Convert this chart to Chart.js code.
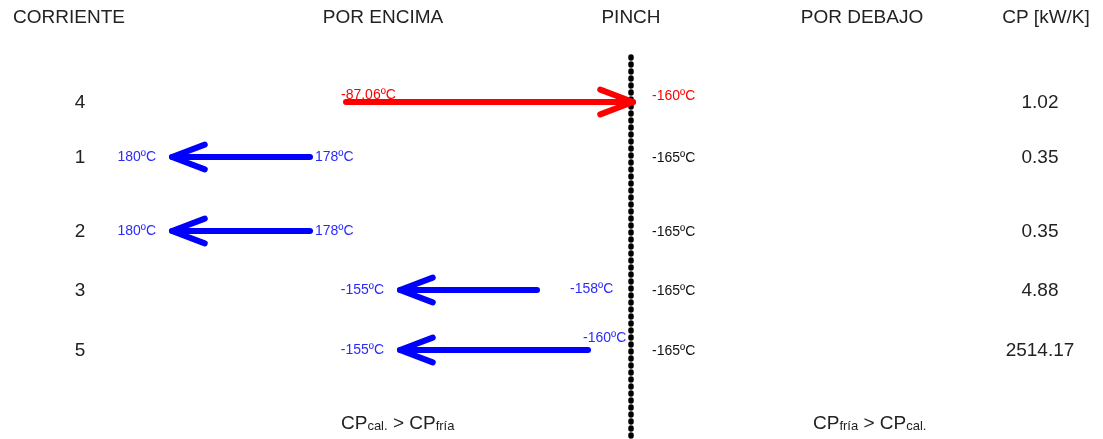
<!DOCTYPE html>
<html>
<head>
<meta charset="utf-8">
<script src="https://cdn.jsdelivr.net/npm/chart.js@4.4.1/dist/chart.umd.min.js"></script>
<style>
  html, body { margin: 0; padding: 0; background: #fff; }
  #wrap { width: 1103px; height: 439px; position: relative; }
</style>
</head>
<body>
<div id="wrap"><canvas id="pinchChart"></canvas></div>
<script>
// Corrientes (filas del diagrama)
const streams = ['4', '1', '2', '3', '5'];
const streamType = ['cal', 'fria', 'fria', 'fria', 'fria'];
const rowPos = [102, 157, 231, 290, 350];

// extremos de las flechas en unidades del diagrama
const arrowTail = [346, 310, 310, 537, 588];
const arrowHead = [633, 172, 172, 400, 400];

// temperaturas (ºC)
const tempTail = [-87.06, 178, 178, -158, -160];
const tempHead = [-160, 180, 180, -155, -155];
const tempBelow = [-160, -165, -165, -165, -165];

// CP [kW/K]
const cpValues = ['1.02', '0.35', '0.35', '4.88', '2514.17'];

const headers = ['CORRIENTE', 'POR ENCIMA', 'PINCH', 'POR DEBAJO', 'CP [kW/K]'];
const headerPos = [69, 383, 631, 862, 1046];

const pinchX = 631;
const pinchRange = [57, 437];

const COLORS = { cal: '#ff0000', fria: '#0000ff', friaText: '#2a2aff', text: '#222222' };

const fmtT = v => `${v}ºC`;

const datasets = streams.map((s, i) => ({
  label: `Corriente ${s}`,
  data: [{ x: arrowTail[i], y: rowPos[i] }, { x: arrowHead[i], y: rowPos[i] }],
  showLine: true,
  borderColor: COLORS[streamType[i]],
  borderWidth: 6,
  borderCapStyle: 'round',
  pointRadius: 0,
  arrow: true
}));

datasets.push({
  label: 'Pinch',
  data: [{ x: pinchX, y: pinchRange[0] }, { x: pinchX, y: pinchRange[1] }],
  showLine: true,
  borderColor: '#000000',
  borderWidth: 5.5,
  borderDash: [1, 6],
  borderCapStyle: 'round',
  pointRadius: 0
});

const arrowPlugin = {
  id: 'arrowHeads',
  afterDatasetsDraw(chart) {
    const ctx = chart.ctx;
    chart.data.datasets.forEach((ds, i) => {
      if (!ds.arrow) return;
      const pts = chart.getDatasetMeta(i).data;
      const a = pts[0], b = pts[1];
      const ang = Math.atan2(b.y - a.y, b.x - a.x);
      const len = 35, spread = 0.36;
      ctx.save();
      ctx.strokeStyle = ds.borderColor;
      ctx.lineWidth = ds.borderWidth;
      ctx.lineCap = 'round';
      ctx.lineJoin = 'round';
      ctx.beginPath();
      ctx.moveTo(b.x - len * Math.cos(ang - spread), b.y - len * Math.sin(ang - spread));
      ctx.lineTo(b.x, b.y);
      ctx.lineTo(b.x - len * Math.cos(ang + spread), b.y - len * Math.sin(ang + spread));
      ctx.stroke();
      ctx.restore();
    });
  }
};

// etiquetas de temperatura en la cola de cada flecha
const tailLabelX = [341, 315, 315, 570, 583];
const tailLabelDy = [-7, 0, 0, -1, -12];

const textPlugin = {
  id: 'diagramText',
  afterDraw(chart) {
    const ctx = chart.ctx;
    const xs = chart.scales.x, ys = chart.scales.y;
    const px = v => xs.getPixelForValue(v);
    const py = v => ys.getPixelForValue(v);
    const FONT = '"Liberation Sans", Arial, sans-serif';
    ctx.save();
    ctx.textBaseline = 'middle';

    // cabeceras
    ctx.font = `19px ${FONT}`;
    ctx.fillStyle = COLORS.text;
    ctx.textAlign = 'center';
    headers.forEach((h, i) => ctx.fillText(h, px(headerPos[i]), py(18)));

    streams.forEach((s, i) => {
      const y = py(rowPos[i]);
      ctx.font = `19px ${FONT}`;
      ctx.fillStyle = COLORS.text;
      ctx.textAlign = 'center';
      ctx.fillText(s, px(80), y + 1);
      ctx.fillText(cpValues[i], px(1040), y + 1);

      const hot = streamType[i] === 'cal';
      const col = hot ? COLORS.cal : COLORS.friaText;
      ctx.font = `14px ${FONT}`;
      ctx.fillStyle = col;
      ctx.textAlign = 'left';
      ctx.fillText(fmtT(tempTail[i]), px(tailLabelX[i]), y + tailLabelDy[i]);
      if (!hot) {
        ctx.textAlign = 'right';
        ctx.fillText(fmtT(tempHead[i]), px(arrowHead[i]) - 16, y);
      }
      ctx.textAlign = 'left';
      ctx.fillStyle = hot ? COLORS.cal : '#111111';
      ctx.fillText(fmtT(tempBelow[i]), px(652), y + (hot ? -6 : 1));
    });

    // relaciones de CP
    const drawRel = (x0, parts) => {
      let x = px(x0);
      const yb = py(429);
      ctx.textAlign = 'left';
      ctx.textBaseline = 'alphabetic';
      ctx.fillStyle = COLORS.text;
      parts.forEach(([t, sub]) => {
        ctx.font = sub ? `13px ${FONT}` : `19px ${FONT}`;
        ctx.fillText(t, x, yb + (sub ? 1 : 0));
        x += ctx.measureText(t).width;
      });
    };
    drawRel(341, [['CP', 0], ['cal.', 1], [' > CP', 0], ['fría', 1]]);
    drawRel(813, [['CP', 0], ['fría', 1], [' > CP', 0], ['cal.', 1]]);
    ctx.restore();
  }
};

new Chart(document.getElementById('pinchChart'), {
  type: 'scatter',
  data: { datasets },
  options: {
    responsive: true,
    maintainAspectRatio: false,
    animation: false,
    layout: { padding: 0 },
    plugins: { legend: { display: false }, tooltip: { enabled: false } },
    scales: {
      x: { type: 'linear', min: 0, max: 1103, display: false },
      y: { type: 'linear', min: 0, max: 439, reverse: true, display: false }
    }
  },
  plugins: [arrowPlugin, textPlugin]
});
</script>
</body>
</html>
